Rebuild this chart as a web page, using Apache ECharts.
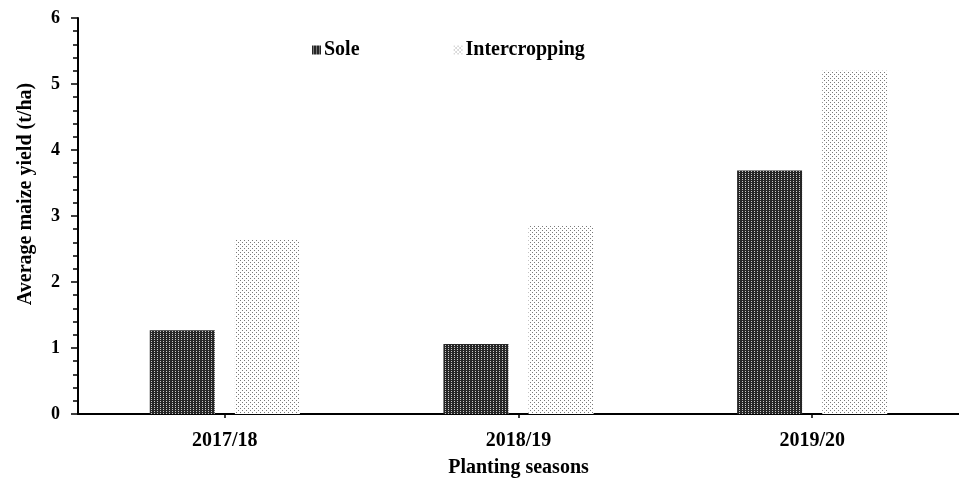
<!DOCTYPE html>
<html><head><meta charset="utf-8">
<script src="https://cdn.jsdelivr.net/npm/echarts@6/dist/echarts.min.js"></script>
<style>html,body{margin:0;padding:0;background:#fff}#c{width:959px;height:479px}</style>
</head><body><div id="c"></div>
<script>
const categories = ['2017/18', '2018/19', '2019/20'];
const soleValues = [1.27, 1.06, 3.69];
const interValues = [2.64, 2.85, 5.2];
const yTicks = [0, 1, 2, 3, 4, 5, 6];

function makePattern(bg, dot, w, h, dots) {
  const c = document.createElement('canvas');
  c.width = w; c.height = h;
  const g = c.getContext('2d');
  g.fillStyle = bg; g.fillRect(0, 0, w, h);
  g.fillStyle = dot;
  dots.forEach(d => g.fillRect(d[0], d[1], 1, 1));
  return { image: c, repeat: 'repeat' };
}
const solePat = makePattern('#262626', '#c8c8c8', 3, 2, [[1, 1]]);
const interPat = makePattern('#ffffff', '#7a7a7a', 4, 4, [[0, 0], [2, 2]]);

const font = '"Liberation Serif", "Times New Roman", serif';
const chart = echarts.init(document.getElementById('c'));
chart.setOption({
  animation: false,
  textStyle: { fontFamily: font },
  grid: { left: 78, right: 0, top: 18, bottom: 65, containLabel: false, outerBoundsMode: 'none' },
  legend: {
    left: 307, top: 35, itemWidth: 9, itemHeight: 9, itemGap: 94,
    icon: 'rect',
    textStyle: { fontFamily: font, fontWeight: 'bold', fontSize: 20, color: '#000', padding: [0, 0, 0, -2] },
    data: ['Sole', 'Intercropping']
  },
  xAxis: {
    type: 'category', data: categories,
    axisLine: { lineStyle: { color: '#000', width: 2 } },
    axisTick: { show: true, alignWithLabel: true, length: 4, lineStyle: { color: '#000', width: 1.5 } },
    axisLabel: { fontFamily: font, fontWeight: 'bold', fontSize: 20, color: '#000', margin: 17 },
    name: 'Planting seasons', nameLocation: 'middle', nameGap: 44,
    nameTextStyle: { fontFamily: font, fontWeight: 'bold', fontSize: 20, color: '#000' }
  },
  yAxis: {
    type: 'value', min: yTicks[0], max: yTicks[yTicks.length - 1], interval: 1,
    axisLine: { show: true, lineStyle: { color: '#000', width: 2 } },
    axisTick: { show: true, length: 7, lineStyle: { color: '#000', width: 1.5 } },
    minorTick: { show: true, splitNumber: 5, length: 5, lineStyle: { color: '#000', width: 1.5 } },
    splitLine: { show: false },
    axisLabel: { fontFamily: font, fontWeight: 'bold', fontSize: 18, color: '#000', margin: 18 },
    name: 'Average maize yield (t/ha)', nameLocation: 'middle', nameGap: 42,
    nameTextStyle: { fontFamily: font, fontWeight: 'bold', fontSize: 20, color: '#000', padding: [0, 0, 0, 44] }
  },
  series: [
    { name: 'Sole', type: 'bar', data: soleValues, barWidth: 65, barGap: '31%',
      itemStyle: { color: solePat } },
    { name: 'Intercropping', type: 'bar', data: interValues, barWidth: 65,
      itemStyle: { color: interPat } }
  ]
});
</script></body></html>
